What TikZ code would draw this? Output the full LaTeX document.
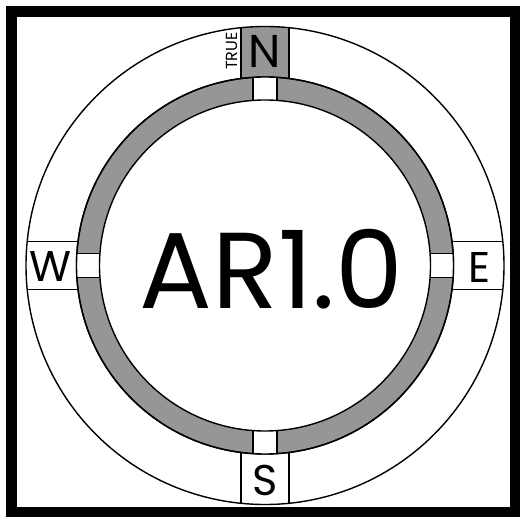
\documentclass[tikz,border=0pt]{standalone}
\usepackage{fontspec}
\setmainfont{Poppins}
\definecolor{ringgray}{RGB}{150,150,150}
\tikzset{
  outl/.style={draw=black, line width=1.4pt},
  lbl/.style={inner sep=0pt, text=black},
}
\begin{document}
\begin{tikzpicture}[x=1pt,y=1pt]
\useasboundingbox (0,0) rectangle (520,517);
\clip (0,0) rectangle (520,517);
\coordinate (C) at (265,251.5);
\def\R{239}
\def\Ro{188.5}
\def\Ri{165.5}
% frame
\draw[line width=11pt] (11.5,505.5) rectangle (515.5,4.5);
% direction boxes, clipped by the outer circle
\begin{scope}
  \clip (C) circle (\R);
  \filldraw[outl, fill=ringgray] (241,251.5) rectangle (289,520);
  \filldraw[outl, fill=white] (241,251.5) rectangle (289,-10);
  \filldraw[outl, fill=white] (-10,227.5) rectangle (265,275.5);
  \filldraw[outl, fill=white] (265,227.5) rectangle (530,275.5);
\end{scope}
\draw[outl] (C) circle (\R);
% gray ring
\filldraw[outl, fill=ringgray] (C) circle (\Ro);
\begin{scope}
  \clip (C) circle (\Ro);
  \filldraw[outl, fill=white] (253,251.5) rectangle (277,520);
  \filldraw[outl, fill=white] (253,251.5) rectangle (277,-10);
  \filldraw[outl, fill=white] (-10,239.5) rectangle (265,263.5);
  \filldraw[outl, fill=white] (265,239.5) rectangle (530,263.5);
\end{scope}
\draw[outl] (C) circle (\Ro);
\filldraw[outl, fill=white] (C) circle (\Ri);
% labels
\node[lbl, font=\fontsize{108}{108}\selectfont] (title) at (271.5,248) {AR1.0};
\node[lbl, font=\fontsize{46}{46}\selectfont] (north) at (265,466) {N};
\node[lbl, font=\fontsize{16}{16}\selectfont, rotate=90] (true) at (231.5,466) {TRUE};
\node[lbl, font=\fontsize{43}{43}\selectfont] (west) at (50,250) {W};
\node[lbl, font=\fontsize{43}{43}\selectfont] (east) at (480,250) {E};
\node[lbl, font=\fontsize{43}{43}\selectfont] (south) at (265,37) {S};
\end{tikzpicture}
\end{document}
